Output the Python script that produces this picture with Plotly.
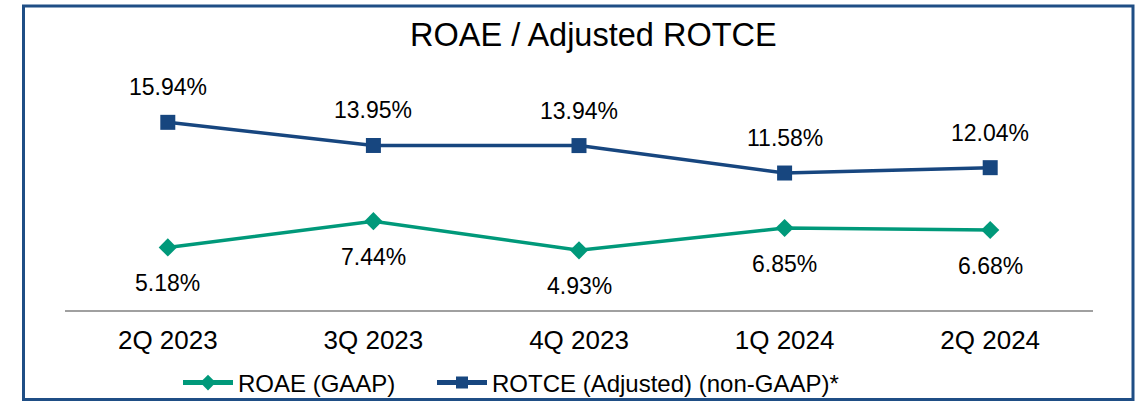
import plotly.graph_objs as go

# %% Daten
quarters = ["2Q 2023", "3Q 2023", "4Q 2023", "1Q 2024", "2Q 2024"]
roae_gaap = [5.18, 7.44, 4.93, 6.85, 6.68]
rotce_adjusted = [15.94, 13.95, 13.94, 11.58, 12.04]

GREEN = "#00997A"
NAVY = "#17467F"
BORDER = "#1F4E85"

W, H = 1143, 402
L, R, T, B = 65, 50, 60, 92
plot_w = W - L - R
plot_h = H - T - B


def px_x(px):
    # Pixel -> paper (horizontal)
    return (px - L) / plot_w


def px_y(py):
    # Pixel -> paper (vertikal)
    return (H - B - py) / plot_h


fig = go.Figure()

fig.add_trace(go.Scatter(
    x=quarters,
    y=roae_gaap,
    mode="lines+markers",
    name="ROAE (GAAP)",
    legend="legend",
    line=dict(color=GREEN, width=3.5),
    marker=dict(symbol="diamond", size=14, color=GREEN)))

fig.add_trace(go.Scatter(
    x=quarters,
    y=rotce_adjusted,
    mode="lines+markers",
    name="ROTCE (Adjusted) (non-GAAP)*",
    legend="legend2",
    line=dict(color=NAVY, width=3.5),
    marker=dict(symbol="square", size=15, color=NAVY)))

# Datenbeschriftungen
label_font = dict(family="Liberation Sans, Arial", size=23, color="#000000")
for q, v in zip(quarters, rotce_adjusted):
    fig.add_annotation(x=q, y=v, text=f"{v:.2f}%", showarrow=False,
                       yshift=35, font=label_font)
for q, v in zip(quarters, roae_gaap):
    fig.add_annotation(x=q, y=v, text=f"{v:.2f}%", showarrow=False,
                       yshift=-36, font=label_font)

# Titel
fig.add_annotation(x=px_x(593), y=px_y(35), xref="paper", yref="paper",
                   text="ROAE / Adjusted ROTCE", showarrow=False,
                   xanchor="center", yanchor="middle",
                   font=dict(family="Liberation Sans, Arial", size=32.5, color="#000000"))

# Rahmen
fig.add_shape(type="rect", xref="paper", yref="paper",
              x0=px_x(23.5), x1=px_x(1133), y0=px_y(399.5), y1=px_y(6),
              line=dict(color=BORDER, width=3))

legend_common = dict(orientation="h", y=px_y(383), xanchor="left", yanchor="middle",
                     font=dict(size=24), itemwidth=50, itemsizing="constant",
                     bgcolor="rgba(0,0,0,0)")

fig.update_layout(
    width=W, height=H,
    margin=dict(l=L, r=R, t=T, b=B, autoexpand=False),
    paper_bgcolor="white",
    plot_bgcolor="white",
    font=dict(family="Liberation Sans, Arial", color="#000000"),
    showlegend=True,
    legend=dict(x=px_x(178), **legend_common),
    legend2=dict(x=px_x(432), **legend_common),
    xaxis=dict(
        type="category",
        range=[-0.5, 4.5],
        showline=True, linecolor="#A0A0A0", linewidth=1.5,
        showgrid=False, zeroline=False, ticks="",
        ticklabelstandoff=6,
        tickfont=dict(size=26)),
    yaxis=dict(range=[-0.2, 21.3], visible=False, showgrid=False))

# Standard-Rand des Browsers entfernen, damit die Grafik genau ins Fenster passt
fig.write_html("out.html", config={"displayModeBar": False},
               post_script="document.body.style.margin='0';document.body.style.overflow='hidden';")
